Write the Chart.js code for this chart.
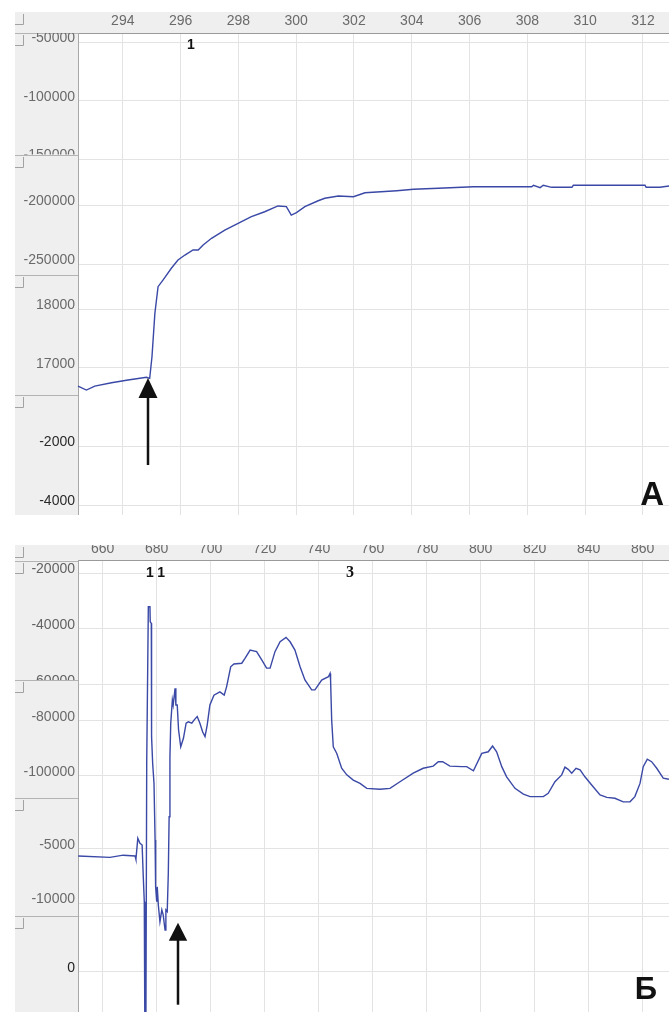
<!DOCTYPE html>
<html>
<head>
<meta charset="utf-8">
<script src="https://cdn.jsdelivr.net/npm/chart.js@4.4.1/dist/chart.umd.min.js"></script>
<style>
  html, body { margin: 0; padding: 0; background: #ffffff; }
  body { width: 669px; height: 1012px; position: relative; overflow: hidden; }
  .panel { position: absolute; left: 0; width: 669px; }
  #panelA { top: 12px; height: 503px; }
  #panelB { top: 545px; height: 467px; }
</style>
</head>
<body>
<div class="panel" id="panelA"><canvas id="chartA" width="669" height="503"></canvas></div>
<div class="panel" id="panelB"><canvas id="chartB" width="669" height="467"></canvas></div>
<script>
// ---------- Recording А ----------
const timeA = [292.45, 292.74, 293.03, 293.61, 294.18, 294.82, 294.93, 295.01, 295.11, 295.22,
  295.39, 295.68, 295.91, 296.15, 296.43, 296.61, 296.78, 297.07, 297.53, 297.99,
  298.45, 298.91, 299.37, 299.66, 299.83, 300.01, 300.30, 300.76, 300.99, 301.46,
  301.98, 302.38, 303.48, 304.06, 304.92, 306.13, 308.15, 308.21, 308.44, 308.55,
  308.84, 309.54, 309.59, 312.07, 312.11, 312.59, 312.90];
const signalA = [-353400, -356800, -353400, -350600, -348300, -346000, -346900, -328600, -291800, -269200,
  -263600, -253600, -246600, -242400, -238100, -238100, -233900, -228200, -221200, -215500,
  -209900, -205700, -200800, -201400, -208500, -206500, -201400, -196400, -194300, -192400,
  -193000, -189600, -187900, -186700, -185800, -184500, -184500, -183300, -185300, -183300,
  -185000, -185000, -183300, -183300, -185000, -185000, -183900];
const timeTicksA = [294, 296, 298, 300, 302, 304, 306, 308, 310, 312];
const channelTicksA = [[-50000, -100000, -150000], [-200000, -250000], [18000, 17000], [-2000, -4000]];
const channelRangesA = [[-146060, -42040], [-259300, -157200], [16533, 18587], [-4339, -271]];
const markLabelsA = [{ text: '1', time: 296.36 }];
const arrowTargetA = { time: 294.88, value: -346600 };

// ---------- Recording Б ----------
const timeB = [650.9, 662.7, 667.6, 672.0, 672.3, 673.0, 673.8, 674.6, 675.0, 675.4,
  675.6, 676.0, 676.3, 676.9, 677.5, 677.6, 678.0, 678.1, 678.5, 679.0,
  679.4, 679.6, 680.0, 680.2, 680.6, 681.2, 681.9, 682.4, 683.1, 683.4,
  683.9, 684.3, 684.6, 684.9, 685.2, 685.8, 686.1, 686.8, 687.1, 687.6,
  688.1, 688.9, 689.9, 690.9, 691.7, 693.0, 693.9, 695.0, 696.0, 697.0,
  697.9, 698.7, 699.7, 701.2, 703.4, 705.0, 705.9, 707.4, 708.6, 711.5,
  712.7, 714.6, 717.0, 718.9, 720.7, 722.0, 723.8, 725.7, 727.9, 729.4,
  731.2, 733.1, 734.9, 737.4, 738.6, 741.1, 743.6, 744.2, 744.4, 744.8,
  745.4, 746.7, 748.5, 750.4, 752.8, 755.3, 757.8, 762.7, 766.4, 770.1,
  775.0, 778.7, 782.4, 784.3, 785.9, 788.6, 793.0, 794.8, 797.3, 800.4,
  802.8, 804.4, 805.9, 807.8, 809.6, 812.7, 815.8, 818.3, 823.2, 825.0,
  827.5, 830.0, 831.2, 832.4, 833.7, 835.3, 836.8, 838.6, 841.1, 844.2,
  846.7, 849.7, 852.8, 855.3, 857.1, 859.0, 860.2, 861.7, 863.3, 865.2,
  867.6, 869.7];
const signalB = [-129200, -129700, -128900, -129200, -130400, -122800, -124600, -125200, -136100, -145800,
  -190000, -190000, -95500, -38550, -38550, -44000, -44600, -85800, -95500, -102800,
  -123400, -140400, -145800, -140400, -147000, -153100, -148800, -150600, -156100, -148800,
  -149400, -135500, -114900, -93100, -80900, -72500, -74300, -68200, -74300, -74300,
  -83400, -89500, -86400, -80900, -80400, -80900, -79700, -78500, -80900, -84000,
  -85800, -81600, -74300, -70700, -69500, -70700, -67600, -60400, -59400, -59100,
  -57300, -54300, -54900, -57900, -60900, -60900, -54900, -51300, -49700, -51300,
  -54300, -60400, -65200, -68800, -68800, -65200, -64000, -62800, -65200, -79700,
  -89500, -91900, -97300, -99700, -101600, -102800, -104600, -104900, -104600, -102200,
  -99100, -97300, -96500, -94900, -94900, -96500, -96700, -96700, -98200, -91900,
  -91300, -89200, -91300, -96700, -100400, -104600, -106700, -107600, -107600, -106400,
  -102200, -99700, -96900, -97700, -99100, -97300, -97900, -100400, -103400, -107000,
  -107900, -108200, -109500, -109500, -107600, -102800, -96700, -94000, -94900, -97300,
  -100900, -101300];
const timeTicksB = [660, 680, 700, 720, 740, 760, 780, 800, 820, 840, 860];
const channelTicksB = [[-20000, -40000, -60000], [-80000, -100000], [-5000, -10000], [5000, 0]];
const channelRangesB = [[-58314, -15475], [-108108, -65201], [-11142, -304], [-3664, 5091]];
const unlabelledTicksB = [5000];
const markLabelsB = [{ text: '1', time: 677.5 }, { text: '1', time: 681.6 }, { text: '3', time: 751.6, serif: true }];
const arrowTargetB = { time: 688.0, value: -153450 };

// ---------- shared look ----------
const FONT = 'Liberation Sans';
const GRID = '#e3e3e3';
const STRIP = '#efefef';
const STRIP_EDGE = '#a9a9a9';
const TRACE = '#3a48a6';
const STRIP_WIDTH = 63;

// Linear scale whose tick labels stay inside the scale's own strip
const LinearScale = Chart.LinearScale || Chart.registry.getScale('linear');
class ChannelScale extends LinearScale {
  drawLabels(chartArea) {
    const ctx = this.ctx;
    ctx.save();
    ctx.beginPath();
    ctx.rect(this.left, this.top, this.right - this.left, this.bottom - this.top);
    ctx.clip();
    super.drawLabels(chartArea);
    ctx.restore();
  }
}
ChannelScale.id = 'channel';
ChannelScale.defaults = LinearScale.defaults;
Chart.register(ChannelScale);

// Grey strip on the left, header bar, channel separators and corner marks
const stripChrome = {
  id: 'stripChrome',
  beforeDraw(chart, _args, o) {
    const { ctx, chartArea: area } = chart;
    const xs = chart.scales.x;
    const left = chart.options.layout.padding.left;
    ctx.save();
    ctx.fillStyle = o.fill;
    ctx.fillRect(left, xs.top, chart.width - left, xs.bottom - xs.top);
    ctx.fillRect(left, area.top, area.left - left, area.bottom - area.top);
    const tops = [xs.top];
    ctx.strokeStyle = o.edge;
    ctx.lineWidth = 1;
    for (const s of Object.values(chart.scales)) {
      if (s.axis !== 'y') continue;
      tops.push(s.top);
      ctx.beginPath();
      ctx.moveTo(left, Math.round(s.top) + 0.5);
      ctx.lineTo(area.left, Math.round(s.top) + 0.5);
      ctx.stroke();
    }
    ctx.strokeStyle = o.mark;
    for (const t of tops) {
      const y = Math.round(t);
      ctx.beginPath();
      ctx.moveTo(left + 8.5, y + 2);
      ctx.lineTo(left + 8.5, y + 12.5);
      ctx.lineTo(left, y + 12.5);
      ctx.stroke();
    }
    ctx.restore();
  }
};

// Event numbers, stimulus arrow and panel letter
const eventMarks = {
  id: 'eventMarks',
  afterDraw(chart, _args, o) {
    const { ctx, chartArea: area, scales } = chart;
    ctx.save();
    ctx.fillStyle = '#111111';
    ctx.textAlign = 'center';
    ctx.textBaseline = 'middle';
    for (const m of o.labels) {
      ctx.font = m.serif ? 'bold 16px "Liberation Serif"' : 'bold 14px "Liberation Sans"';
      ctx.fillText(m.text, scales.x.getPixelForValue(m.time), area.top + o.labelDy);
    }
    const a = o.arrow;
    const ax = Math.round(scales.x.getPixelForValue(a.time));
    const ay = scales[o.arrowAxis].getPixelForValue(a.value);
    ctx.beginPath();
    ctx.moveTo(ax, ay);
    ctx.lineTo(ax + o.headHalf, ay + o.headLen);
    ctx.lineTo(ax - o.headHalf, ay + o.headLen);
    ctx.closePath();
    ctx.fill();
    ctx.fillRect(ax - 1.25, ay + o.headLen - 1, 2.5, o.arrowLen - o.headLen + 1);
    ctx.font = 'bold ' + o.letterSize + 'px "Liberation Sans"';
    ctx.textAlign = 'right';
    ctx.textBaseline = 'alphabetic';
    ctx.fillText(o.letter, area.right - o.letterDx, area.bottom - o.letterDy);
    ctx.restore();
  }
};

function channelAxes(tickLists, ranges, heights, colors, unlabelled) {
  const axes = {};
  tickLists.forEach((values, i) => {
    axes['c' + (i + 1)] = {
      type: 'channel',
      position: 'left',
      stack: 'channels',
      stackWeight: heights[i],
      weight: tickLists.length - i,
      min: ranges[i][0],
      max: ranges[i][1],
      afterBuildTicks: s => { s.ticks = values.map(v => ({ value: v })); },
      afterFit: s => { s.width = STRIP_WIDTH; s.paddingTop = 0; s.paddingBottom = 0; },
      grid: { color: GRID, lineWidth: 1, drawTicks: false },
      border: { display: true, color: STRIP_EDGE, width: 1 },
      ticks: {
        color: colors[i],
        font: { family: FONT, size: 14 },
        padding: 3,
        labelOffset: -4,
        autoSkip: false,
        callback: v => (unlabelled.includes(v) ? '' : String(v))
      }
    };
  });
  return axes;
}

function timeAxis(tickValues, min, max, headerHeight) {
  return {
    type: 'linear',
    position: 'top',
    min, max,
    afterBuildTicks: s => { s.ticks = tickValues.map(v => ({ value: v })); },
    afterFit: s => { s.height = headerHeight; s.paddingLeft = 0; s.paddingRight = 0; },
    grid: { color: GRID, lineWidth: 1, drawTicks: false },
    border: { display: true, color: '#9a9a9a', width: 1 },
    ticks: {
      color: '#6a6a6a',
      font: { family: FONT, size: 14 },
      padding: 3,
      autoSkip: false,
      maxRotation: 0,
      callback: v => String(v)
    }
  };
}

function makeChart(id, cfg) {
  return new Chart(document.getElementById(id), {
    type: 'line',
    data: {
      datasets: [{
        data: cfg.time.map((t, i) => ({ x: t, y: cfg.signal[i] })),
        yAxisID: 'c2',
        borderColor: TRACE,
        borderWidth: 1.4,
        pointRadius: 0,
        tension: 0,
        clip: false
      }]
    },
    options: {
      responsive: false,
      animation: false,
      events: [],
      layout: { padding: { left: 15, top: 0, right: 0, bottom: 0 } },
      scales: Object.assign(
        { x: timeAxis(cfg.timeTicks, cfg.xMin, cfg.xMax, cfg.header) },
        channelAxes(cfg.channelTicks, cfg.ranges, cfg.heights, cfg.tickColors, cfg.unlabelled)
      ),
      plugins: {
        legend: { display: false },
        tooltip: { enabled: false },
        stripChrome: { fill: STRIP, edge: '#b4b4b4', mark: '#a2a2a2' },
        eventMarks: Object.assign({ labels: cfg.marks, arrow: cfg.arrow, arrowAxis: 'c2' }, cfg.decor)
      }
    },
    plugins: [stripChrome, eventMarks]
  });
}

makeChart('chartA', {
  time: timeA, signal: signalA, timeTicks: timeTicksA,
  xMin: 292.45, xMax: 312.9, header: 21,
  channelTicks: channelTicksA, ranges: channelRangesA,
  heights: [121.5, 120.5, 120, 120],
  tickColors: ['#6a6a6a', '#6a6a6a', '#6a6a6a', '#2a2a2a'],
  unlabelled: [],
  marks: markLabelsA, arrow: arrowTargetA,
  decor: { labelDy: 12.5, headLen: 20, headHalf: 9.5, arrowLen: 87, letter: 'А', letterSize: 33, letterDx: 5, letterDy: 10 }
});

makeChart('chartB', {
  time: timeB, signal: signalB, timeTicks: timeTicksB,
  xMin: 650.85, xMax: 869.74, header: 15.7,
  channelTicks: channelTicksB, ranges: channelRangesB,
  heights: [119.3, 118, 117.7, 96.3],
  tickColors: ['#626262', '#6a6a6a', '#6a6a6a', '#222222'],
  unlabelled: unlabelledTicksB,
  marks: markLabelsB, arrow: arrowTargetB,
  decor: { labelDy: 12, headLen: 18, headHalf: 9.2, arrowLen: 82, letter: 'Б', letterSize: 31, letterDx: 12, letterDy: 12.7 }
});
</script>
</body>
</html>
